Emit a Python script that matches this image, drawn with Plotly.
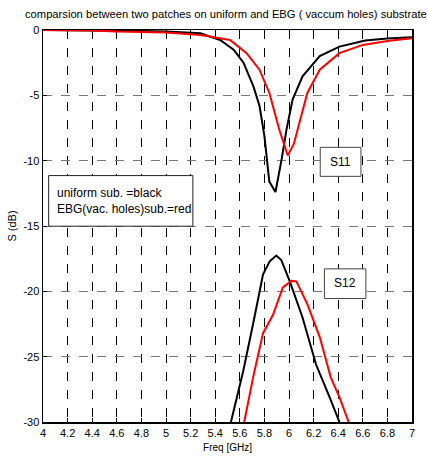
import plotly.graph_objects as go

# S11 uniform substrate (black)
s11_uni_f = [4.0, 4.4, 4.8, 5.0, 5.2, 5.28, 5.44, 5.55, 5.63, 5.71, 5.76, 5.80, 5.84, 5.865, 5.89, 5.94, 5.98, 6.03, 6.11, 6.25, 6.41, 6.62, 6.8, 7.0]
s11_uni_db = [0, -0.02, -0.08, -0.12, -0.22, -0.25, -0.76, -1.5, -2.5, -4.3, -5.8, -8.1, -11.6, -12.0, -12.4, -9.9, -7.6, -5.3, -3.55, -2.0, -1.27, -0.81, -0.65, -0.56]

# S11 EBG substrate (red)
s11_ebg_f = [4.0, 4.4, 4.6, 4.8, 5.0, 5.28, 5.52, 5.655, 5.76, 5.84, 5.92, 5.99, 6.04, 6.09, 6.15, 6.25, 6.41, 6.6, 6.8, 7.0]
s11_ebg_db = [0, -0.03, -0.12, -0.15, -0.2, -0.38, -0.76, -1.77, -3.04, -4.8, -7.6, -9.6, -8.7, -6.9, -4.8, -3.04, -1.77, -1.14, -0.85, -0.63]

# S12 uniform substrate (black)
s12_uni_f = [5.528, 5.628, 5.708, 5.789, 5.843, 5.897, 5.937, 6.005, 6.11, 6.22, 6.33, 6.41]
s12_uni_db = [-30, -26.1, -22.5, -18.7, -17.7, -17.26, -17.6, -19.2, -22.0, -25.6, -28.1, -30]

# S12 EBG substrate (red)
s12_ebg_f = [5.636, 5.708, 5.789, 5.87, 5.95, 6.02, 6.06, 6.15, 6.25, 6.34, 6.41, 6.485]
s12_ebg_db = [-30, -26.6, -23.2, -21.8, -19.7, -19.2, -19.24, -21.0, -23.5, -26.6, -28.1, -30]

x_ticks = [4.0, 4.2, 4.4, 4.6, 4.8, 5.0, 5.2, 5.4, 5.6, 5.8, 6.0, 6.2, 6.4, 6.6, 6.8, 7.0]
x_tick_labels = ["4", "4.2", "4.4", "4.6", "4.8", "5", "5.2", "5.4", "5.6", "5.8", "6", "6.2", "6.4", "6.6", "6.8", "7"]
y_ticks = [0, -5, -10, -15, -20, -25, -30]
y_tick_labels = ["0", "-5", "-10", "-15", "-20", "-25", "-30"]

FONT = "Liberation Sans, Arial, sans-serif"

fig = go.Figure()
line_w = 2
fig.add_trace(go.Scatter(x=s11_uni_f, y=s11_uni_db, mode="lines", line=dict(color="black", width=line_w), showlegend=False))
fig.add_trace(go.Scatter(x=s11_ebg_f, y=s11_ebg_db, mode="lines", line=dict(color="#ff0000", width=line_w), showlegend=False))
fig.add_trace(go.Scatter(x=s12_uni_f, y=s12_uni_db, mode="lines", line=dict(color="black", width=line_w), showlegend=False))
fig.add_trace(go.Scatter(x=s12_ebg_f, y=s12_ebg_db, mode="lines", line=dict(color="#ff0000", width=line_w), showlegend=False))

fig.update_layout(
    width=427, height=464,
    margin=dict(l=42, r=14, t=30, b=39),
    paper_bgcolor="white", plot_bgcolor="white",
    font=dict(family=FONT, size=11, color="black"),
    title=dict(text="comparsion between two patches on uniform and EBG ( vaccum holes) substrate",
               x=0.529, xanchor="center", y=0.97, yanchor="middle",
               font=dict(family=FONT, size=11.2, color="black")),
)
fig.update_xaxes(
    range=[4, 7], tickvals=x_ticks, ticktext=x_tick_labels,
    showgrid=True, gridcolor="black", gridwidth=1, griddash="dash",
    showline=True, linecolor="black", linewidth=1.5, mirror=True,
    ticks="inside", ticklen=4, tickcolor="black", zeroline=False,
    title=dict(text="Freq [GHz]", font=dict(size=10), standoff=6),
    tickfont=dict(size=11),
)
fig.update_yaxes(
    range=[-30, 0], tickvals=y_ticks, ticktext=y_tick_labels,
    showgrid=True, gridcolor="#777777", gridwidth=1, griddash="dash",
    showline=True, linecolor="black", linewidth=1.5, mirror=True,
    ticks="inside", ticklen=4, tickcolor="black", zeroline=False,
    title=dict(text="S (dB)", font=dict(size=11), standoff=4),
    tickfont=dict(size=11),
)

# Text boxes
fig.add_shape(type="rect", xref="x", yref="y", x0=6.254, x1=6.585, y0=-11.2, y1=-8.98,
              line=dict(color="#444", width=1), fillcolor="white")
fig.add_annotation(xref="x", yref="y", x=6.42, y=-10.09, text="S11", showarrow=False,
                   font=dict(family=FONT, size=12, color="black"))
fig.add_shape(type="rect", xref="x", yref="y", x0=6.288, x1=6.625, y0=-20.55, y1=-18.28,
              line=dict(color="#444", width=1), fillcolor="white")
fig.add_annotation(xref="x", yref="y", x=6.456, y=-19.4, text="S12", showarrow=False,
                   font=dict(family=FONT, size=12, color="black"))
fig.add_shape(type="rect", xref="paper", yref="paper", x0=(47.7-42)/371, x1=(192.7-42)/371,
              y0=(425-227.7)/395, y1=(425-176.7)/395,
              line=dict(color="#222", width=1), fillcolor="white")
fig.add_annotation(xref="paper", yref="paper", x=(54-42)/371, y=(425-202)/395,
                   text="uniform sub. =black<br>EBG(vac. holes)sub.=red", showarrow=False,
                   xanchor="left", yanchor="middle", align="left",
                   font=dict(family=FONT, size=12, color="black"))

fig.write_html("out.html", config={"displayModeBar": False, "staticPlot": True})
with open("out.html", "r", encoding="utf-8") as fh:
    html = fh.read()
html = html.replace("<head>", "<head><style>html,body{margin:0;padding:0;overflow:hidden;}</style>", 1)
with open("out.html", "w", encoding="utf-8") as fh:
    fh.write(html)
